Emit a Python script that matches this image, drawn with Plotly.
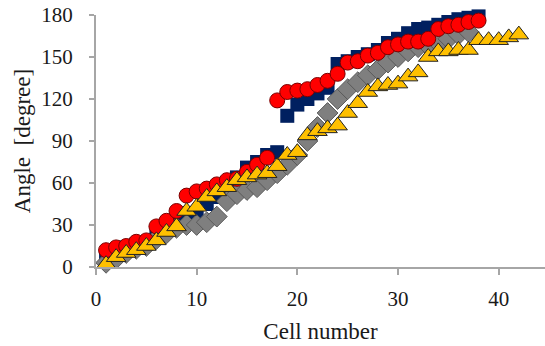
import plotly.graph_objects as go

navy_y = [8, 11, 14, 16, 17, 22, 27, 31, 33, 35, 45, 50, 55, 64, 71, 75, 80, 82,
          108, 116, 120, 124, 128, 145, 147, 150, 152, 155, 160, 163, 167, 170,
          171, 173, 175, 177, 178, 179]
gray_y = [3, 6, 10, 13, 15, 20, 24, 28, 30, 30, 32, 36, 47, 52, 55, 57, 62, 67,
          73, 80, 90, 100, 110, 120, 127, 132, 137, 141, 146, 150, 154, 157,
          158, 160, 163, 166, 168]
red_y = [12, 14, 15, 18, 19, 29, 33, 40, 51, 54, 56, 59, 62, 63, 68, 73, 78,
         119, 125, 126, 127, 130, 133, 138, 146, 147, 151, 153, 157, 159, 161,
         161, 163, 170, 172, 173, 175, 176]
yellow_y = [2, 7, 10, 12, 15, 19, 25, 29, 40, 43, 50, 54, 57, 62, 64, 66, 67,
            72, 80, 82, 94, 97, 99, 101, 110, 117, 125, 129, 130, 131, 136, 139,
            150, 154, 154, 155, 155, 162, 162, 162, 164, 166]

x_ticks = [0, 10, 20, 30, 40]
y_ticks = [0, 30, 60, 90, 120, 150, 180]

def idx(vals):
    return list(range(1, len(vals) + 1))

fig = go.Figure()
fig.add_trace(go.Scatter(x=idx(navy_y), y=navy_y, mode="markers",
                         marker=dict(symbol="square", size=14, color="#002060",
                                     line=dict(width=0)), cliponaxis=False))
fig.add_trace(go.Scatter(x=idx(gray_y), y=gray_y, mode="markers",
                         marker=dict(symbol="diamond", size=16, color="#7F7F7F",
                                     line=dict(width=1, color="#5a5a5a")), cliponaxis=False))
fig.add_trace(go.Scatter(x=idx(red_y), y=red_y, mode="markers",
                         marker=dict(symbol="circle", size=15, color="#FF0000",
                                     line=dict(width=1, color="#7a0000")), cliponaxis=False))
fig.add_trace(go.Scatter(x=idx(yellow_y), y=yellow_y, mode="markers",
                         marker=dict(symbol="triangle-up", size=17, color="#FFC000",
                                     line=dict(width=1, color="#222222")), cliponaxis=False))

font = "Liberation Serif, Times New Roman, serif"
fig.update_layout(
    width=545, height=346,
    margin=dict(l=96, r=0, t=15, b=79),
    paper_bgcolor="white", plot_bgcolor="white",
    showlegend=False,
    font=dict(family=font, size=21, color="#1a1a1a"),
    xaxis=dict(range=[0, 44.6], tickvals=x_ticks, showgrid=False, zeroline=False,
               showline=True, linecolor="#A6A6A6", linewidth=2,
               ticks="outside", ticklen=6, tickcolor="#A6A6A6", tickwidth=1.5,
               ticklabelstandoff=6,
               title=dict(text="Cell number", font=dict(size=23), standoff=13)),
    yaxis=dict(range=[0, 180], tickvals=y_ticks, showgrid=False, zeroline=False,
               showline=True, linecolor="#A6A6A6", linewidth=2,
               ticks="outside", ticklen=5, tickcolor="#A6A6A6", tickwidth=1.5,
               ticklabelstandoff=12,
               title=dict(text="Angle  [degree]", font=dict(size=23), standoff=4)),
)
fig.write_html("out.html")
